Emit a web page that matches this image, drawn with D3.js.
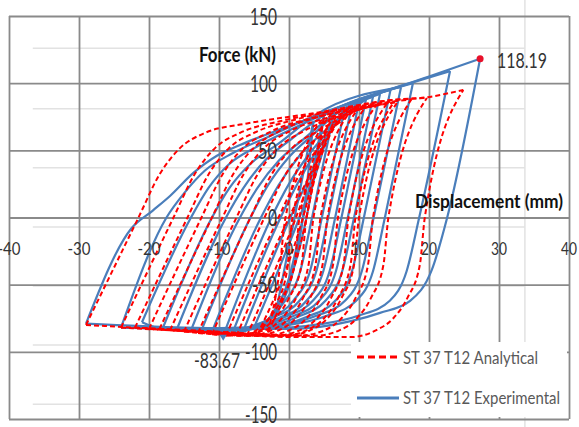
<!DOCTYPE html>
<html>
<head>
<meta charset="utf-8">
<script src="https://cdn.jsdelivr.net/npm/d3@7"></script>
<style>
  body { margin: 0; background: #fff; }
  text { font-family: Lato, "Open Sans", sans-serif; }
</style>
</head>
<body>
<div id="chart"></div>
<script>
// chart size
var svgWidth = 579;
var svgHeight = 427;

// axis ticks
var xTicks = [-40, -30, -20, -10, 0, 10, 20, 30, 40];
var yTicks = [150, 100, 50, 0, -50, -100, -150];

// faint grid left over from the second (overlaid) chart, in chart units
var ghostGridY = [126, 81, 37, -7, -51, -95, -139];
var ghostGridX = [33.7];

var seriesNames = ["ST 37 T12 Analytical", "ST 37 T12 Experimental"];

// analytical cycles, each one [displacement mm, force kN] from - peak to + peak and back
var analyticalLoops = [
  [[-29,-80],[-21.5,0],[-18.5,32],[-15.5,52],[-12,63],[-6,70],[4,78],[14,87],[19.7,89.5],[24.9,95],[19.4,0],[18.7,-35],[16.9,-60],[14.9,-75],[12.4,-84],[8.9,-89],[0,-89],[-12,-85],[-29,-80]],
  [[-24,-82],[-16.5,0],[-13.5,32],[-10.5,52],[-7,63],[-1,72],[8,81],[14,87],[19.7,89],[14.2,0],[13.5,-35],[11.7,-60],[9.7,-75],[7.2,-84],[3.7,-88],[-8,-86],[-24,-82]],
  [[-22,-82],[-14.5,0],[-11.5,32],[-8.5,52],[-5,63],[1,73],[9,82],[17.5,88],[12,0],[11.3,-35],[9.5,-60],[7.5,-75],[5,-84],[1.5,-88],[-10,-85],[-22,-82]],
  [[-20,-83],[-12.5,0],[-9.5,32],[-6.5,52],[-3,63],[4,75],[10,81],[15.5,86],[10,0],[9.3,-35],[7.5,-60],[5.5,-75],[3,-84],[-0.5,-88],[-10,-86],[-20,-83]],
  [[-18.5,-83],[-11,0],[-8,32],[-5,52],[-1.5,64],[5,76],[15,86],[9.5,0],[8.8,-35],[7,-60],[5,-75],[2.5,-84],[-1,-88],[-10,-86],[-18.5,-83]],
  [[-17,-84],[-9.5,0],[-6.5,32],[-3.5,52],[0,64],[6,75],[14,85],[8.5,0],[7.8,-35],[6,-60],[4,-75],[1.5,-84],[-2,-88],[-10,-86],[-17,-84]],
  [[-15,-85],[-7.5,0],[-4.5,32],[-1.5,52],[2,64],[7,75],[12.5,84],[7,0],[6.3,-35],[4.5,-60],[2.5,-75],[0,-84],[-3.5,-88],[-15,-85]],
  [[-13,-86],[-5.5,0],[-2.5,32],[0.5,52],[4,64],[11,83],[5.5,0],[4.8,-35],[3,-60],[1,-75],[-1.5,-84],[-5,-88],[-13,-86]],
  [[-11,-87],[-3.5,0],[-0.5,32],[2.5,52],[6,66],[10,82],[4.5,0],[3.8,-35],[2,-60],[0,-75],[-2.5,-84],[-6,-88],[-11,-87]],
  [[-9,-88],[-1.5,0],[1.5,32],[4.5,54],[6.5,68],[9,81],[3.5,0],[2.8,-35],[1,-60],[-1,-75],[-3.5,-84],[-9,-88]],
  [[-7.5,-88],[0,0],[3,32],[5.5,58],[8,80],[2.5,0],[1.8,-35],[0,-60],[-2,-75],[-4.5,-85],[-7.5,-88]],
  [[-6,-88],[1,0],[3.5,35],[5.5,60],[7,79],[1.5,0],[0.8,-35],[-1,-60],[-3,-76],[-6,-88]],
  [[-4.5,-87],[2,0],[4,40],[6,77],[0.5,0],[-0.3,-40],[-2,-66],[-4.5,-87]],
  [[-3,-85],[2.5,0],[5,75],[-0.5,0],[-1.5,-45],[-3,-85]]
];

// experimental cycles
var experimentalLoops = [
  [[-29,-79],[-22.5,-8],[-19.5,5],[-17,16],[-13.7,33],[-10.3,46],[-7,54],[0,68],[10,87.5],[20,105],[27.3,118.19],[22.6,0],[20.4,-39],[17.3,-62],[13,-71],[9,-77],[0,-83],[-15,-82],[-29,-79]],
  [[-24,-82],[-17.5,0],[-15,18],[-12,35],[-8,48],[-3,60],[3,74],[14,94.5],[23,109],[18.6,0],[16.8,-40],[14.4,-62],[10,-73],[5,-79],[-5,-83],[-15,-83],[-24,-82]],
  [[-21,-78],[-14,0],[-11.5,22],[-8.5,40],[-4.5,53],[0.5,66],[8,84],[17.7,100],[13.7,0],[12,-40],[9.6,-62],[5.5,-73],[0,-80],[-10,-84],[-18,-83],[-21,-78]],
  [[-18,-82],[-11,0],[-8.5,22],[-5.5,40],[-1.5,55],[4,77],[16,97],[12.1,0],[10.4,-40],[8,-62],[4,-73],[-1,-80],[-10,-84],[-18,-82]],
  [[-16,-83],[-9,0],[-6.5,22],[-3.5,42],[0,57],[5,76],[14.5,95],[10.7,0],[9,-40],[6.6,-62],[2.5,-74],[-2.5,-81],[-16,-83]],
  [[-14,-84],[-7,0],[-4.5,22],[-1.5,42],[2,58],[6.5,77],[13,92],[9.3,0],[7.6,-40],[5.2,-62],[1.2,-74],[-4,-82],[-14,-84]],
  [[-12.5,-84],[-5.5,0],[-3,24],[0,45],[3.5,62],[7,78],[12,90],[8.4,0],[6.7,-40],[4.3,-62],[0.3,-74],[-5,-82],[-12.5,-84]],
  [[-11,-85],[-4,0],[-1.5,24],[1.5,46],[5,64],[11,88],[7.5,0],[5.8,-40],[3.4,-62],[-0.6,-74],[-5.5,-83],[-11,-85]],
  [[-9.4,-88],[-2.5,0],[0,25],[3,48],[6,66],[10,86],[6.6,0],[4.9,-40],[2.5,-62],[-1.5,-75],[-6,-84],[-9.4,-88]],
  [[-8,-85],[-1.2,0],[1.3,26],[4,50],[6.5,68],[9,84],[5.6,0],[3.9,-40],[1.5,-62],[-2.5,-75],[-8,-85]],
  [[-6.5,-84],[0.2,0],[2.7,28],[5,55],[8,82],[4.7,0],[3,-40],[0.6,-62],[-3,-76],[-6.5,-84]],
  [[-5,-82],[1.5,0],[3.8,32],[6.5,80],[3.3,0],[1.6,-40],[-1,-65],[-5,-82]],
  [[-3.5,-80],[2.5,0],[5,77],[2,0],[0,-45],[-3.5,-80]],
  [[-2,-74],[2,0],[3.5,72],[0.8,0],[-2,-74]]
];

// labelled extreme points
var peakPoint = [27.3, 118.19];
var peakLabel = "118.19";
var minPoint = [-9.4, -88];
var minLabel = "-83.67";

var svg = d3.select("#chart")
  .append("svg")
  .attr("width", svgWidth)
  .attr("height", svgHeight)
  .style("display", "block");

svg.append("rect").attr("width", svgWidth).attr("height", svgHeight).attr("fill", "#fff");

// scales
var xScale = d3.scaleLinear().domain([-40, 40]).range([9, 569]);
var yScale = d3.scaleLinear().domain([-150, 150]).range([419, 16]);

// faint grid
svg.append("g").selectAll("line")
  .data(ghostGridY)
  .enter()
  .append("line")
  .attr("x1", xScale(-36.6)).attr("x2", xScale(33.7))
  .attr("y1", d => yScale(d)).attr("y2", d => yScale(d))
  .attr("stroke", "#e2e2e2").attr("stroke-width", 1.5);

svg.append("g").selectAll("line")
  .data(ghostGridX)
  .enter()
  .append("line")
  .attr("x1", d => xScale(d)).attr("x2", d => xScale(d))
  .attr("y1", 0).attr("y2", svgHeight)
  .attr("stroke", "#e2e2e2").attr("stroke-width", 1.5);

// main grid, drawn with the axis generators
var gridColor = "#8a8a8a";
var xGrid = svg.append("g")
  .attr("transform", `translate(0, ${yScale(-150)})`)
  .call(d3.axisBottom(xScale).tickValues(xTicks).tickSize(-(yScale(-150) - yScale(150))).tickFormat(""));
var yGrid = svg.append("g")
  .attr("transform", `translate(${xScale(-40)}, 0)`)
  .call(d3.axisLeft(yScale).tickValues(yTicks).tickSize(-(xScale(40) - xScale(-40))).tickFormat(""));
[xGrid, yGrid].forEach(function(g) {
  g.select(".domain").remove();
  g.selectAll(".tick line").attr("stroke", gridColor).attr("stroke-width", 1.8);
});

// text helper: baseline y, fixed printed width
function addText(str, x, y, size, width, anchor, color, weight) {
  return svg.append("text")
    .attr("x", x)
    .attr("y", y)
    .attr("font-size", size)
    .attr("font-weight", weight || "normal")
    .attr("text-anchor", anchor)
    .attr("fill", color)
    .attr("textLength", width)
    .attr("lengthAdjust", "spacingAndGlyphs")
    .text(str);
}

// each cycle is split at its + peak into a loading and an unloading branch,
// both ordered by increasing displacement
function branches(loop) {
  var i = d3.maxIndex(loop, d => d[0]);
  return [loop.slice(0, i + 1), loop.slice(i).reverse()];
}

var line = d3.line()
  .x(d => xScale(d[0]))
  .y(d => yScale(d[1]))
  .curve(d3.curveMonotoneX);

svg.append("g").selectAll("path")
  .data(experimentalLoops.flatMap(branches))
  .enter()
  .append("path")
  .attr("d", line)
  .attr("fill", "none")
  .attr("stroke", "#4a7ebb")
  .attr("stroke-width", 2.2)
  .attr("stroke-linejoin", "round");

svg.append("g").selectAll("path")
  .data(analyticalLoops.flatMap(branches))
  .enter()
  .append("path")
  .attr("d", line)
  .attr("fill", "none")
  .attr("stroke", "#ff0000")
  .attr("stroke-width", 2)
  .attr("stroke-dasharray", "5,3");

// extreme markers
svg.append("circle")
  .attr("cx", xScale(peakPoint[0]))
  .attr("cy", yScale(peakPoint[1]))
  .attr("r", 3.5)
  .attr("fill", "#e8102a");

svg.append("path")
  .attr("d", d3.symbol().type(d3.symbolTriangle).size(22))
  .attr("transform", `translate(${xScale(minPoint[0])}, ${yScale(minPoint[1]) + 1}) rotate(180)`)
  .attr("fill", "#4a7ebb");

// tick labels
var xLabelWidth = { "-40": 23, "-30": 23, "-20": 23, "-10": 23, "0": 8, "10": 16, "20": 16, "30": 16, "40": 16 };
xTicks.forEach(function(t) {
  addText(String(t), xScale(t), 255, 18, xLabelWidth[t], "middle", "#333");
});

var yLabelWidth = { "150": 27, "100": 27, "50": 19, "0": 9, "-50": 25, "-100": 32, "-150": 32 };
yTicks.forEach(function(t) {
  addText(String(t), 277, Math.min(yScale(t) + 8.5, 423), 23, yLabelWidth[t], "end", "#333");
});

// axis titles
addText("Force (kN)", 276, 62, 21, 77, "end", "#111", "bold");
addText("Displacement (mm)", 563, 208, 18, 148, "end", "#111", "bold");

// value labels
addText(peakLabel, 497, 68, 22, 50, "start", "#333");
addText(minLabel, 194, 368, 22, 46, "start", "#333");

// legend
var legend = svg.append("g");
legend.append("rect")
  .attr("x", 351).attr("y", 342)
  .attr("width", 216).attr("height", 75)
  .attr("fill", "#fff");

legend.append("line")
  .attr("x1", 357).attr("x2", 399)
  .attr("y1", 357).attr("y2", 357)
  .attr("stroke", "#ff0000").attr("stroke-width", 3)
  .attr("stroke-dasharray", "7,4");
legend.append("line")
  .attr("x1", 357).attr("x2", 399)
  .attr("y1", 398).attr("y2", 398)
  .attr("stroke", "#4a7ebb").attr("stroke-width", 3);

addText(seriesNames[0], 403, 364, 17, 135, "start", "#595959");
addText(seriesNames[1], 403, 404, 17, 157, "start", "#595959");
</script>
</body>
</html>
